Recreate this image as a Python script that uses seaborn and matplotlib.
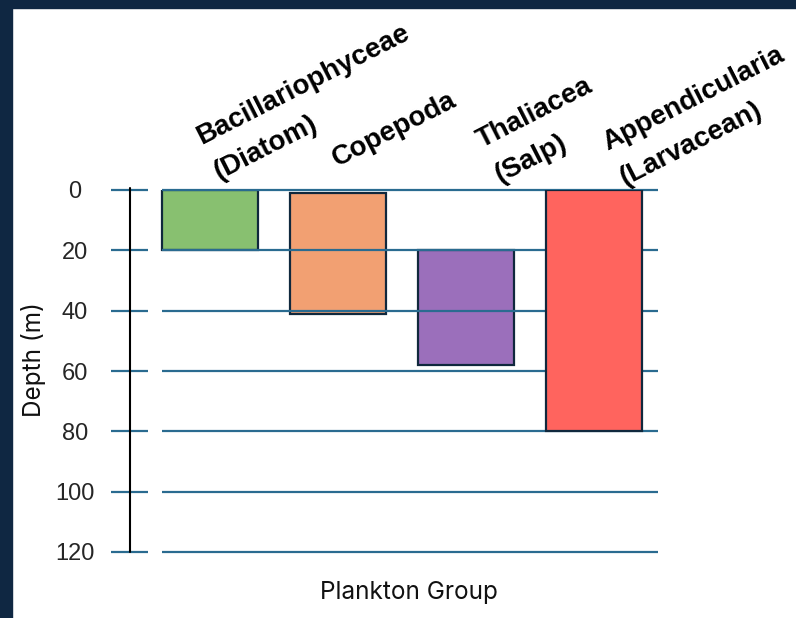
import math
import matplotlib
matplotlib.use("Agg")
import matplotlib.pyplot as plt
from matplotlib.patches import Rectangle
import seaborn as sns

# Depth ranges (m) occupied by each plankton group
groups = ["Bacillariophyceae\n(Diatom)", "Copepoda", "Thaliacea\n(Salp)", "Appendicularia\n(Larvacean)"]
top_depth = [0, 1, 20, 0]
bottom_depth = [20, 41, 58, 80]
bar_colors = ["#88c070", "#f2a072", "#9b6fbb", "#ff645e"]
depth_ticks = [0, 20, 40, 60, 80, 100, 120]
depth_labels = ["0", "20", "40", "60", "80", "100", "120"]

span = [b - t for t, b in zip(top_depth, bottom_depth)]

sns.set_style("white")
plt.rcParams["font.family"] = ["Liberation Sans", "DejaVu Sans"]

W, H = 796, 618
fig = plt.figure(figsize=(W / 100, H / 100), dpi=100)
fig.patch.set_facecolor("white")

# dark frame along top and left edges
navy = "#0f2742"
fig.add_artist(Rectangle((0, 1 - 8 / H), 1, 8 / H, transform=fig.transFigure, color=navy, zorder=0))
fig.add_artist(Rectangle((0, 0), 12 / W, 1, transform=fig.transFigure, color=navy, zorder=0))

ax_l, ax_r, ax_t, ax_b = 100, 700, 190, 552
ax = fig.add_axes([ax_l / W, 1 - ax_b / H, (ax_r - ax_l) / W, (ax_b - ax_t) / H])
ax.set_facecolor("none")

sns.barplot(x=groups, y=span, order=groups, bottom=top_depth, color=bar_colors[0],
            errorbar=None, width=0.75, edgecolor="#10283d", linewidth=1.6, ax=ax)
for patch, c in zip(ax.patches, bar_colors):
    patch.set_facecolor(c)
    patch.set_zorder(2)
ax.patches[-1].set_zorder(3)

px_per_unit = 128
xmin = -(210 - ax_l) / px_per_unit
ax.set_xlim(xmin, xmin + (ax_r - ax_l) / px_per_unit)
ax.set_ylim(120, 0)

line_c = "#2a6b90"
for d in depth_ticks:
    ax.plot([-0.375, 3.5], [d, d], color=line_c, lw=1.6, zorder=2.5, clip_on=False,
            solid_capstyle="butt")
    ax.plot([-0.773, -0.484], [d, d], color=line_c, lw=1.6, zorder=2.5, clip_on=False,
            solid_capstyle="butt")
ax.plot([-0.625, -0.625], [-0.7, 120], color="black", lw=1.5, zorder=4, clip_on=False)

for s in ax.spines.values():
    s.set_visible(False)
ax.set_xticks([])
ax.set_yticks(depth_ticks, labels=depth_labels)
ax.tick_params(axis="y", length=0, pad=18, labelsize=17)
for lab in ax.get_yticklabels():
    lab.set_horizontalalignment("center")
ax.set_xlabel("")
ax.set_ylabel("")

# rotated group names above the bars; each line is placed separately,
# starting from the last line and stepping up perpendicular to the text
angle = 27
line_step = 28.5  # points between baselines
perp = (-math.sin(math.radians(angle)), math.cos(math.radians(angle)))
label_offsets = [(6.5, 7.2), (-0.7, 16.5), (24.5, 5.0), (22.5, 3.0)]
for i, (name, (dx, dy)) in enumerate(zip(groups, label_offsets)):
    lines = name.split("\n")
    for k, text in enumerate(reversed(lines)):
        ox = dx + k * line_step * perp[0]
        oy = dy + k * line_step * perp[1]
        ax.annotate(text, xy=(i, 0), xytext=(ox, oy), textcoords="offset points",
                    rotation=angle, rotation_mode="anchor", ha="left", va="baseline",
                    fontsize=20, fontweight="bold",
                    annotation_clip=False, color="black")

fig.text(34 / W, 1 - 360 / H, "Depth (m)", rotation=90, ha="center", va="center",
         fontsize=17.5, family=["Inter", "DejaVu Sans"], color="#111111")
fig.text(409 / W, 1 - 592 / H, "Plankton Group", ha="center", va="center",
         fontsize=17.5, family=["Inter", "DejaVu Sans"], color="#111111")

fig.savefig("out.png", dpi=100, facecolor=fig.get_facecolor())
